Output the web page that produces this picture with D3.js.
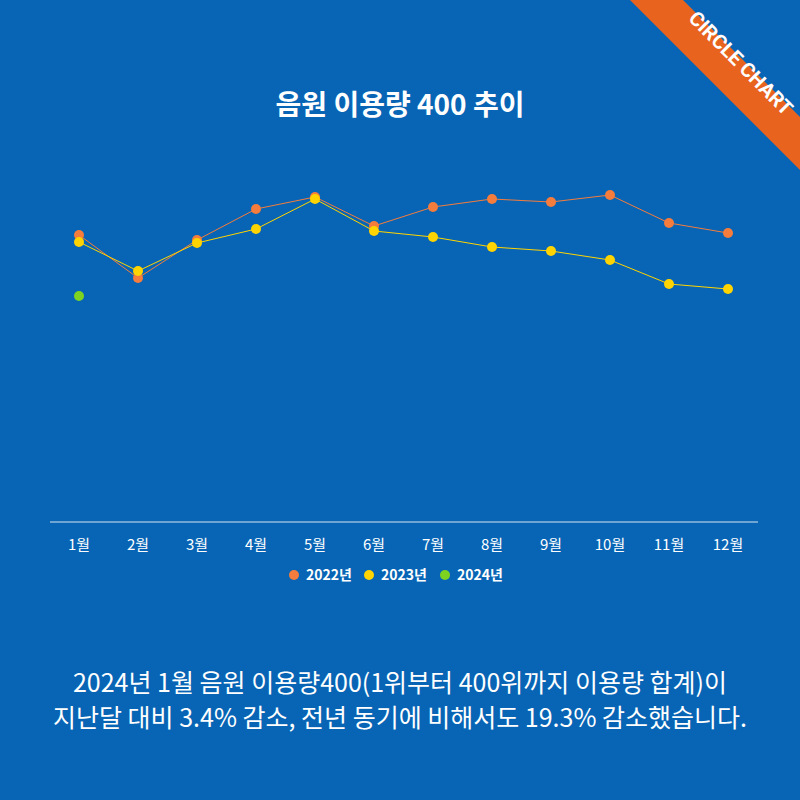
<!DOCTYPE html>
<html><head><meta charset="utf-8">
<script src="https://cdn.jsdelivr.net/npm/d3@7"></script>
<style>body{margin:0;background:#0865b5;font-family:"Noto Sans CJK KR","Noto Sans",sans-serif}</style>
</head><body>
<script>
var months = ["1월","2월","3월","4월","5월","6월","7월","8월","9월","10월","11월","12월"];
var usage2022 = [287,244,282,313,325,296,315,323,320,327,299,289];
var usage2023 = [280,251,279,293,323,291,285,275,271,262,238,233];
var usage2024 = [226];
var seriesNames = ["2022년","2023년","2024년"];
var seriesColors = ["#f47c3c","#ffd400","#7ed321"];

var W = 800, H = 800;
var svg = d3.select("body").append("svg").attr("width", W).attr("height", H);
svg.append("rect").attr("width", W).attr("height", H).attr("fill", "#0865b5");

var x = d3.scalePoint().domain(months).range([79, 728]);
var y = d3.scaleLinear().domain([0, 330]).range([522, 192]);

svg.append("text").attr("x", 400).attr("y", 115).attr("text-anchor", "middle")
    .attr("fill", "white").attr("font-size", 28).attr("font-weight", "bold").text("음원 이용량 400 추이");

// axis line + labels
svg.append("line").attr("x1", 50).attr("x2", 758).attr("y1", 522).attr("y2", 522)
    .attr("stroke", "#d8e4f0").attr("stroke-width", 1);
svg.selectAll(".mlab").data(months).enter().append("text")
    .attr("x", d => x(d)).attr("y", 550).attr("text-anchor", "middle")
    .attr("fill", "white").attr("font-size", 15).text(d => d);

var allSeries = [usage2022, usage2023, usage2024];
var line = d3.line().x((d, i) => x(months[i])).y(d => y(d));
allSeries.forEach(function (s, k) {
    svg.append("path").datum(s).attr("fill", "none").attr("stroke", seriesColors[k])
        .attr("stroke-width", 1).attr("d", line);
    svg.selectAll(".p" + k).data(s).enter().append("circle")
        .attr("cx", (d, i) => x(months[i])).attr("cy", d => y(d)).attr("r", 5)
        .attr("fill", seriesColors[k]);
});

// legend
var lx = [294, 369, 445];
seriesNames.forEach(function (n, k) {
    svg.append("circle").attr("cx", lx[k]).attr("cy", 575).attr("r", 5).attr("fill", seriesColors[k]);
    svg.append("text").attr("x", lx[k] + 12).attr("y", 580).attr("fill", "white")
        .attr("font-size", 14).attr("font-weight", "bold").text(n);
});

// bottom note
svg.append("text").attr("x", 400).attr("y", 692).attr("text-anchor", "middle").attr("fill", "white")
    .attr("font-size", 25).text("2024년 1월 음원 이용량400(1위부터 400위까지 이용량 합계)이");
svg.append("text").attr("x", 400).attr("y", 727).attr("text-anchor", "middle").attr("fill", "white")
    .attr("font-size", 25).text("지난달 대비 3.4% 감소, 전년 동기에 비해서도 19.3% 감소했습니다.");

// corner ribbon
svg.append("polygon").attr("points", "630,0 683,0 800,117 800,170").attr("fill", "#e8641e");
svg.append("text").attr("transform", "translate(736,68) rotate(45)").attr("text-anchor", "middle")
    .attr("fill", "white").attr("font-size", 20).attr("font-weight", "bold")
    .attr("font-family", "Roboto, sans-serif").text("CIRCLE CHART");
</script>
</body></html>
